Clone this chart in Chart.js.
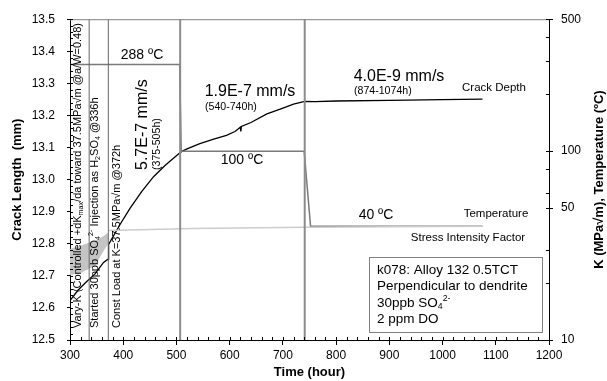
<!DOCTYPE html>
<html>
<head>
<meta charset="utf-8">
<script src="https://cdn.jsdelivr.net/npm/chart.js@4.4.0/dist/chart.umd.min.js"></script>
<style>
  html, body { margin: 0; padding: 0; background: #fff; }
  #wrap { width: 607px; height: 381px; }
</style>
</head>
<body>
<div id="wrap"><canvas id="chart"></canvas></div>
<script>
const FONT = '"Liberation Sans", Arial, sans-serif';

// crack length (mm) against time (hour)
const crackHours = [300, 315, 330, 347, 363, 371.5, 372.5, 394, 413, 435, 457, 479, 501, 510, 520, 544, 570, 594, 610, 620, 621, 622, 640, 670, 695, 720, 741, 760, 800, 900, 1000, 1075];
const crackMm = [12.623, 12.655, 12.680, 12.706, 12.742, 12.752, 12.798, 12.860, 12.911, 12.963, 13.009, 13.045, 13.076, 13.088, 13.096, 13.112, 13.126, 13.138, 13.150, 13.163, 13.150, 13.166, 13.178, 13.205, 13.220, 13.235, 13.244, 13.243, 13.245, 13.247, 13.249, 13.251];

// temperature (ºC), right axis
const tempHours = [300, 506, 509, 740, 752, 1075];
const tempC = [288, 288, 100, 100, 40, 40];

// stress intensity factor K (MPa√m), right axis
const kHours = [372, 530, 740, 1075];
const kValues = [38.0, 39.0, 39.6, 40.0];

// vary-K scatter band (300-372h)
const bandHours = [300, 322, 347, 363, 372];
const bandLow = [22, 22.8, 24.7, 29.6, 32.3];
const bandHigh = [30.3, 31.8, 33.5, 35.5, 37.0];

// event lines
const markerHours = [336, 372, 507, 741];

const rightTicks = [10, 50, 100, 500];
const rightMinor = [20, 30, 60, 80, 200, 300, 400];

function pts(xs, ys) {
  return xs.map((x, i) => ({ x: x, y: ys[i] }));
}

// texte avec indices / exposants
function drawRich(ctx, parts, x, y, size, rotate) {
  ctx.save();
  ctx.translate(x, y);
  if (rotate) ctx.rotate(-Math.PI / 2);
  ctx.textBaseline = "middle";
  ctx.textAlign = "left";
  ctx.fillStyle = "#000";
  let cx = 0;
  parts.forEach((p) => {
    const t = p[0], mode = p[1];
    const s = mode ? size * 0.65 : size;
    ctx.font = s + "px " + FONT;
    const dy = mode === "sub" ? size * 0.28 : mode === "sup" ? -size * 0.35 : 0;
    ctx.fillText(t, cx, dy);
    cx += ctx.measureText(t).width;
  });
  ctx.restore();
}

function label(ctx, text, x, y, size, align) {
  ctx.save();
  ctx.font = size + "px " + FONT;
  ctx.fillStyle = "#000";
  ctx.textAlign = align || "center";
  ctx.textBaseline = "middle";
  ctx.fillText(text, x, y);
  ctx.restore();
}

const decorations = {
  id: "decorations",
  afterDraw(chart) {
    const ctx = chart.ctx;
    const a = chart.chartArea;
    const sx = chart.scales.x, sy = chart.scales.y, sk = chart.scales.y2;

    // top frame
    ctx.save();
    ctx.strokeStyle = "#808080";
    ctx.lineWidth = 1;
    ctx.beginPath();
    ctx.moveTo(a.left, a.top + 0.5);
    ctx.lineTo(a.right, a.top + 0.5);
    ctx.stroke();

    // minor ticks (inside)
    ctx.strokeStyle = "#000";
    ctx.beginPath();
    for (let h = 300; h <= 1200; h += 20) {
      const px = Math.round(sx.getPixelForValue(h)) + 0.5;
      ctx.moveTo(px, a.bottom);
      ctx.lineTo(px, a.bottom - 3);
    }
    for (let i = 0; i <= 50; i++) {
      const py = Math.round(sy.getPixelForValue(12.5 + i * 0.02)) + 0.5;
      ctx.moveTo(a.left, py);
      ctx.lineTo(a.left + 3, py);
    }
    rightMinor.concat(rightTicks).forEach((v) => {
      const py = Math.round(sk.getPixelForValue(v)) + 0.5;
      ctx.moveTo(a.right, py);
      ctx.lineTo(a.right - 3, py);
    });
    ctx.stroke();
    ctx.restore();

    // right axis title (reads upward)
    ctx.save();
    ctx.translate(599, (a.top + a.bottom) / 2);
    ctx.rotate(-Math.PI / 2);
    ctx.font = "bold 13px " + FONT;
    ctx.fillStyle = "#000";
    ctx.textAlign = "center";
    ctx.textBaseline = "middle";
    ctx.fillText("K (MPa\u221Am), Temperature (\u00BAC)", 0, 0);
    ctx.restore();

    // annotations
    label(ctx, "288 \u00BAC", 142, 55, 14);
    label(ctx, "100 \u00BAC", 242, 160, 14);
    label(ctx, "40 \u00BAC", 376, 215, 14);
    label(ctx, "Temperature", 496, 214, 11.5);
    label(ctx, "Stress Intensity Factor", 468, 238, 11.5);
    label(ctx, "Crack Depth", 494, 88, 11.5);
    label(ctx, "1.9E-7 mm/s", 250, 92, 16);
    label(ctx, "(540-740h)", 205, 107, 10.6, "left");
    label(ctx, "4.0E-9 mm/s", 399, 77, 16);
    label(ctx, "(874-1074h)", 354, 91, 10.6, "left");
    drawRich(ctx, [["5.7E-7 mm/s"]], 143, 170, 16, true);
    drawRich(ctx, [["(375-505h)"]], 157, 170, 10.6, true);

    drawRich(ctx, [["Vary-K (Controlled +dK"], ["max", "sub"], ["/da toward 37.5MPa\u221Am @a/W=0.48)"]], 78, 328, 11, true);
    drawRich(ctx, [["Started 30ppb SO"], ["4", "sub"], ["2-", "sup"], [" Injection as H"], ["2", "sub"], ["SO"], ["4", "sub"], [" @336h"]], 95, 328, 11, true);
    drawRich(ctx, [["Const Load at K=37.5MPa\u221Am @372h"]], 117, 328, 11, true);

    // info box
    ctx.save();
    ctx.fillStyle = "#fff";
    ctx.strokeStyle = "#808080";
    ctx.lineWidth = 1;
    ctx.fillRect(369.5, 257.5, 173, 75);
    ctx.strokeRect(369.5, 257.5, 173, 75);
    ctx.restore();
    drawRich(ctx, [["k078: Alloy 132 0.5TCT"]], 377, 270, 13.5, false);
    drawRich(ctx, [["Perpendicular to dendrite"]], 377, 286.5, 13.5, false);
    drawRich(ctx, [["30ppb SO"], ["4", "sub"], ["2-", "sup"]], 377, 303, 13.5, false);
    drawRich(ctx, [["2 ppm DO"]], 377, 319, 13.5, false);
  },
};

const datasets = [];

markerHours.forEach((h, i) => {
  datasets.push({
    label: "marker" + h,
    data: [{ x: h, y: 12.5 }, { x: h, y: 13.5 }],
    yAxisID: "y",
    borderColor: i < 2 ? "#666666" : "#8c8c8c",
    borderWidth: i < 2 ? 1 : 2,
    pointRadius: 0,
  });
});

datasets.push(
  {
    label: "bandLow",
    data: pts(bandHours, bandLow),
    yAxisID: "y2",
    borderWidth: 0,
    borderColor: "rgba(0,0,0,0)",
    pointRadius: 0,
  },
  {
    label: "bandHigh",
    data: pts(bandHours, bandHigh),
    yAxisID: "y2",
    borderWidth: 0,
    borderColor: "rgba(0,0,0,0)",
    backgroundColor: "#c4c4c4",
    fill: "-1",
    pointRadius: 0,
  },
  {
    label: "Stress Intensity Factor",
    data: pts(kHours, kValues),
    yAxisID: "y2",
    borderColor: "#cccccc",
    borderWidth: 1.5,
    pointRadius: 0,
  },
  {
    label: "Temperature",
    data: pts(tempHours, tempC),
    yAxisID: "y2",
    borderColor: "#7a7a7a",
    borderWidth: 1.5,
    pointRadius: 0,
  },
  {
    label: "Crack Depth",
    data: pts(crackHours, crackMm),
    yAxisID: "y",
    borderColor: "#000",
    borderWidth: 1.3,
    pointRadius: 0,
  }
);

new Chart(document.getElementById("chart"), {
  type: "line",
  data: { datasets: datasets },
  options: {
    responsive: true,
    maintainAspectRatio: false,
    animation: false,
    events: [],
    layout: { padding: { top: 16, left: 0, right: 0, bottom: 0 } },
    plugins: {
      legend: { display: false },
      tooltip: { enabled: false },
    },
    scales: {
      x: {
        type: "linear",
        min: 300,
        max: 1200,
        ticks: {
          stepSize: 100,
          color: "#000",
          padding: 3,
          maxRotation: 0,
          font: { size: 12, family: FONT },
          callback: (v) => String(v),
        },
        grid: { drawOnChartArea: false, tickLength: 5, color: "#000" },
        border: { color: "#000" },
        title: {
          display: true,
          text: "Time (hour)",
          color: "#000",
          font: { size: 13, weight: "bold", family: FONT },
          padding: { top: 0, bottom: 1 },
        },
        afterFit(s) {
          s.height = 41;
        },
      },
      y: {
        type: "linear",
        position: "left",
        min: 12.5,
        max: 13.5,
        ticks: {
          stepSize: 0.1,
          color: "#000",
          padding: 12,
          font: { size: 12, family: FONT },
          callback: (v) => v.toFixed(1),
        },
        grid: { drawOnChartArea: false, tickLength: 3, color: "#000" },
        border: { color: "#000" },
        title: {
          display: true,
          text: "Crack Length  (mm)",
          color: "#000",
          font: { size: 13, weight: "bold", family: FONT },
          padding: { top: 10, bottom: 0 },
        },
        afterFit(s) {
          s.width = 70;
        },
      },
      y2: {
        type: "logarithmic",
        position: "right",
        min: 10,
        max: 500,
        afterBuildTicks(s) {
          s.ticks = rightTicks.map((v) => ({ value: v }));
        },
        ticks: {
          color: "#000",
          padding: 8,
          font: { size: 12, family: FONT },
          callback: (v) => String(v),
        },
        grid: { drawOnChartArea: false, tickLength: 4, color: "#000" },
        border: { color: "#000" },
        afterFit(s) {
          s.width = 58;
        },
      },
    },
  },
  plugins: [decorations],
});
</script>
</body>
</html>
